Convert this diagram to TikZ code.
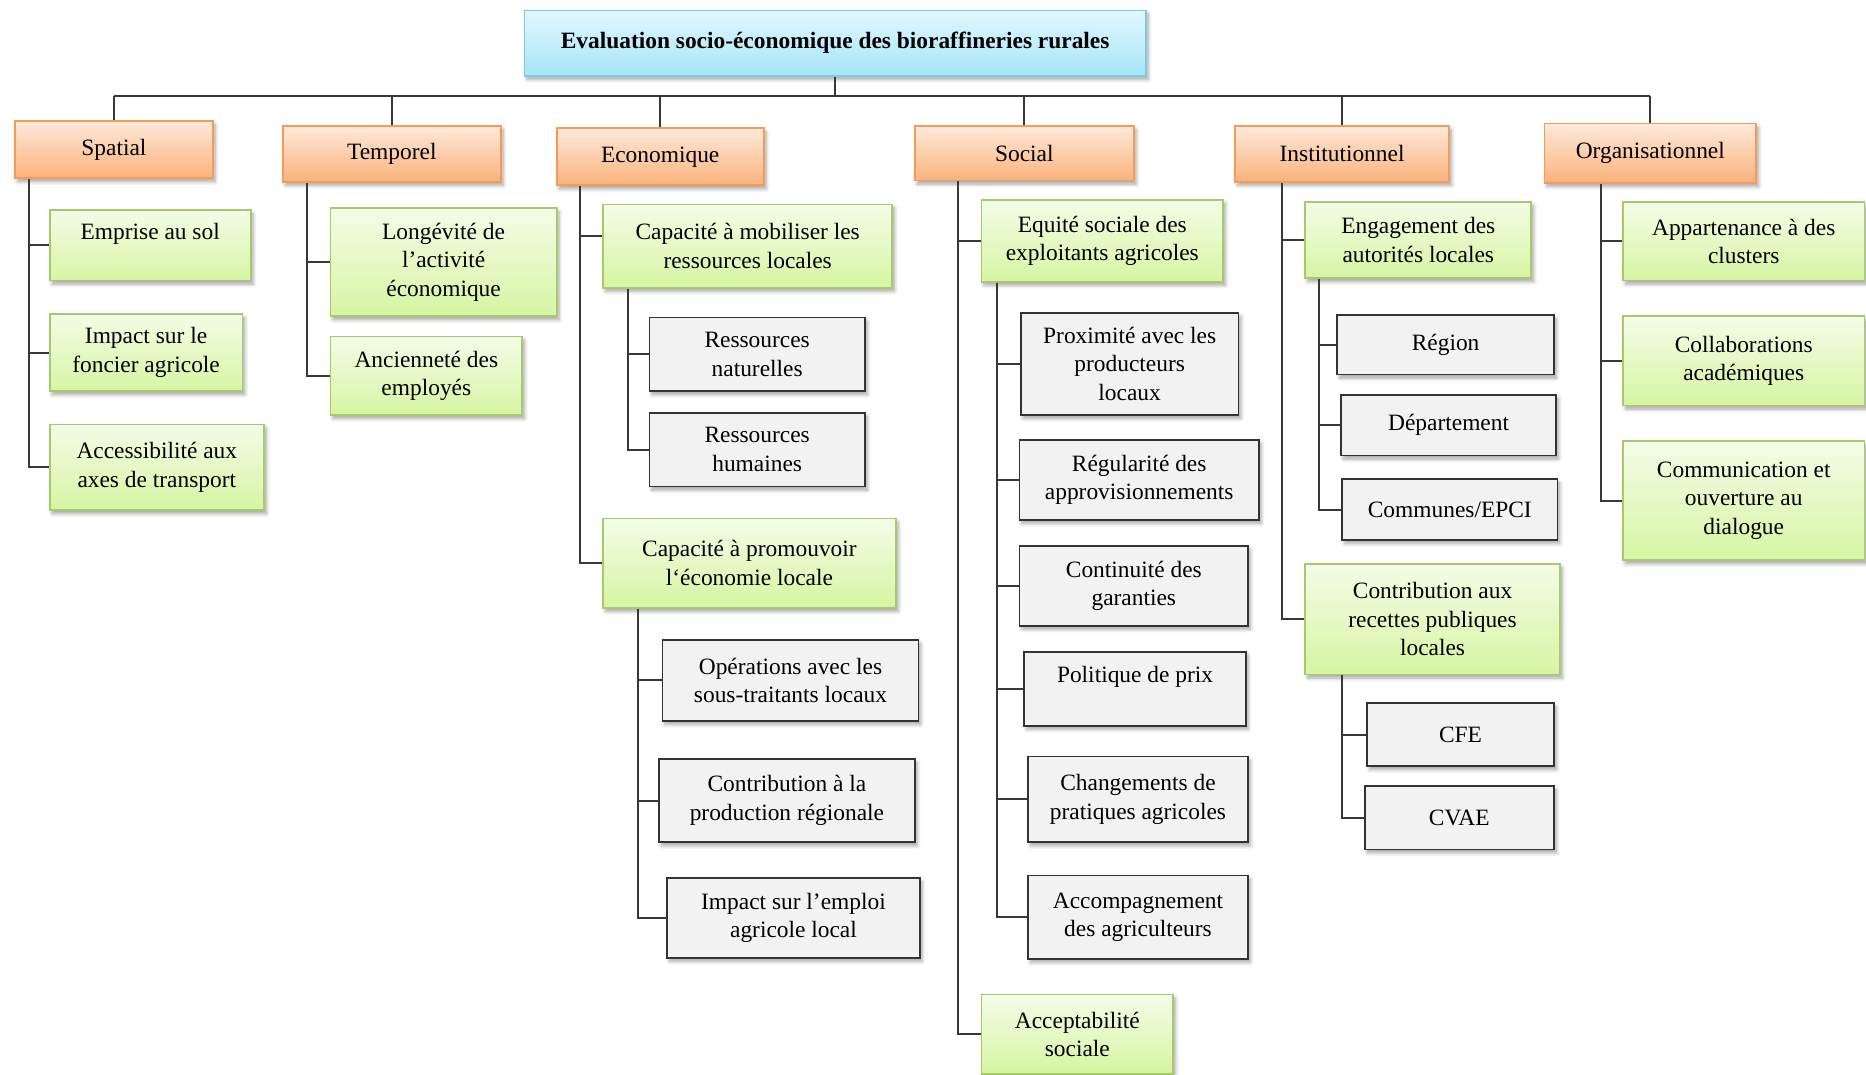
\documentclass[tikz,border=0pt]{standalone}
\usepackage{fontspec}
\setmainfont{Liberation Serif}
\usetikzlibrary{shadows.blur}
\definecolor{titletop}{HTML}{E2F7FD}
\definecolor{titlebot}{HTML}{A6E4F8}
\definecolor{titlebord}{HTML}{7CCBE6}
\definecolor{orangetop}{HTML}{FDE9DA}
\definecolor{orangebot}{HTML}{FBB27B}
\definecolor{orangebord}{HTML}{F59A58}
\definecolor{greentop}{HTML}{F4FCE8}
\definecolor{greenbot}{HTML}{D6F5A2}
\definecolor{greenbord}{HTML}{A6C96A}
\definecolor{grayfill}{HTML}{F2F2F2}
\definecolor{graybord}{HTML}{333333}
\definecolor{linecol}{HTML}{383838}
\newcommand{\fs}{\fontsize{11.8}{14.4}\selectfont}
\tikzset{
  base/.style={inner sep=0pt, align=center, font=\fs, line width=0.9pt, anchor=north west,
    blur shadow={shadow xshift=1.2pt, shadow yshift=-1.8pt, shadow blur steps=6, shadow opacity=35}},
  titlebox/.style={base, draw=titlebord, top color=titletop, bottom color=titlebot, font=\fs\bfseries},
  dimbox/.style={base, draw=orangebord, top color=orangetop, bottom color=orangebot},
  critbox/.style={base, draw=greenbord, top color=greentop, bottom color=greenbot},
  subbox/.style={base, draw=graybord, fill=grayfill},
  link/.style={draw=linecol, line width=1pt},
}
% \bx{style}{name}{x1}{y1}{x2}{y2}{text}
\newcommand{\bx}[7]{\node[#1, minimum width={(#5-#3)*0.6pt}, minimum height={(#6-#4)*0.6pt}] (#2) at (#3,#4) {#7};}
\begin{document}
\begin{tikzpicture}[x=0.6pt,y=-0.6pt]
\useasboundingbox (0,0) rectangle (1568,903);
% title
\bx{titlebox}{title}{440}{8}{962}{63}{Evaluation socio-économique des bioraffineries rurales}
% level 1
\bx{dimbox}{spatial}{12}{101}{178}{149}{Spatial}
\bx{dimbox}{temporel}{237}{105}{420}{152}{Temporel}
\bx{dimbox}{eco}{467}{107}{641}{155}{Economique}
\bx{dimbox}{social}{768}{105}{952}{151}{Social}
\bx{dimbox}{inst}{1037}{105}{1217}{152}{Institutionnel}
\bx{dimbox}{org}{1297}{103}{1475}{153}{Organisationnel}
% spatial
\bx{critbox}{sp1}{41}{176}{210}{235}{Emprise au sol\\~}
\bx{critbox}{sp2}{41}{263}{203}{328}{Impact sur le\\foncier agricole}
\bx{critbox}{sp3}{41}{356}{221}{428}{Accessibilité aux\\axes de transport}
% temporel
\bx{critbox}{te1}{277}{174}{467}{265}{Longévité de\\l’activité\\économique}
\bx{critbox}{te2}{277}{282}{438}{348}{Ancienneté des\\employés}
% economique
\bx{critbox}{ec1}{506}{171}{749}{241}{Capacité à mobiliser les\\ressources locales}
\bx{subbox}{ec11}{545}{266}{726}{328}{Ressources\\naturelles}
\bx{subbox}{ec12}{545}{346}{726}{408}{Ressources\\humaines}
\bx{critbox}{ec2}{506}{435}{752}{510}{Capacité à promouvoir\\l‘économie locale}
\bx{subbox}{ec21}{556}{537}{771}{605}{Opérations avec les\\sous-traitants locaux}
\bx{subbox}{ec22}{553}{637}{768}{707}{Contribution à la\\production régionale}
\bx{subbox}{ec23}{560}{737}{772}{804}{Impact sur l’emploi\\agricole local}
% social
\bx{critbox}{so1}{824}{167}{1027}{236}{Equité sociale des\\exploitants agricoles}
\bx{subbox}{so11}{857}{262}{1040}{348}{Proximité avec les\\producteurs\\locaux}
\bx{subbox}{so12}{856}{369}{1057}{436}{Régularité des\\approvisionnements}
\bx{subbox}{so13}{856}{458}{1048}{525}{Continuité des\\garanties}
\bx{subbox}{so14}{860}{547}{1046}{609}{Politique de prix\\~}
\bx{subbox}{so15}{863}{635}{1048}{707}{Changements de\\pratiques agricoles}
\bx{subbox}{so16}{863}{735}{1048}{805}{Accompagnement\\des agriculteurs}
\bx{critbox}{so2}{824}{835}{985}{902}{Acceptabilité\\sociale}
% institutionnel
\bx{critbox}{in1}{1096}{169}{1286}{233}{Engagement des\\autorités locales}
\bx{subbox}{in11}{1123}{264}{1305}{314}{Région}
\bx{subbox}{in12}{1126}{331}{1307}{382}{Département}
\bx{subbox}{in13}{1127}{402}{1308}{453}{Communes/EPCI}
\bx{critbox}{in2}{1096}{473}{1310}{566}{Contribution aux\\recettes publiques\\locales}
\bx{subbox}{in21}{1148}{590}{1305}{643}{CFE}
\bx{subbox}{in22}{1146}{660}{1305}{713}{CVAE}
% organisationnel
\bx{critbox}{or1}{1363}{169}{1566}{235}{Appartenance à des\\clusters}
\bx{critbox}{or2}{1363}{265}{1566}{340}{Collaborations\\académiques}
\bx{critbox}{or3}{1363}{370}{1566}{470}{Communication et\\ouverture au\\dialogue}
% spine coordinates
\coordinate (bus) at (700,81);
\coordinate (xsp) at (24,0);
\coordinate (xte) at (258,0);
\coordinate (xec) at (487,0);
\coordinate (xec1) at (528,0);
\coordinate (xec2) at (536,0);
\coordinate (xso) at (805,0);
\coordinate (xso1) at (838,0);
\coordinate (xin) at (1077,0);
\coordinate (xin1) at (1108,0);
\coordinate (xin2) at (1128,0);
\coordinate (xor) at (1345,0);
% top connectors
\draw[link] (title.south) -- (title.south |- bus);
\draw[link] (spatial.north |- bus) -- (org.north |- bus);
\foreach \n in {spatial,temporel,eco,social,inst,org}
  \draw[link] (\n.north |- bus) -- (\n.north);
% children connectors
\foreach \c in {sp1,sp2,sp3} \draw[link] (spatial.south -| xsp) |- (\c.west);
\foreach \c in {te1,te2} \draw[link] (temporel.south -| xte) |- (\c.west);
\draw[link] (eco.south -| xec) |- ([yshift=5pt]ec1.west);
\draw[link] (eco.south -| xec) |- (ec2.west);
\foreach \c in {ec11,ec12} \draw[link] (ec1.south -| xec1) |- (\c.west);
\foreach \c in {ec21,ec22,ec23} \draw[link] (ec2.south -| xec2) |- (\c.west);
\foreach \c in {so1,so2} \draw[link] (social.south -| xso) |- (\c.west);
\foreach \c in {so11,so12,so13,so14,so15,so16} \draw[link] (so1.south -| xso1) |- (\c.west);
\foreach \c in {in1,in2} \draw[link] (inst.south -| xin) |- (\c.west);
\foreach \c in {in11,in12,in13} \draw[link] (in1.south -| xin1) |- (\c.west);
\foreach \c in {in21,in22} \draw[link] (in2.south -| xin2) |- (\c.west);
\foreach \c in {or1,or2,or3} \draw[link] (org.south -| xor) |- (\c.west);
\end{tikzpicture}
\end{document}
